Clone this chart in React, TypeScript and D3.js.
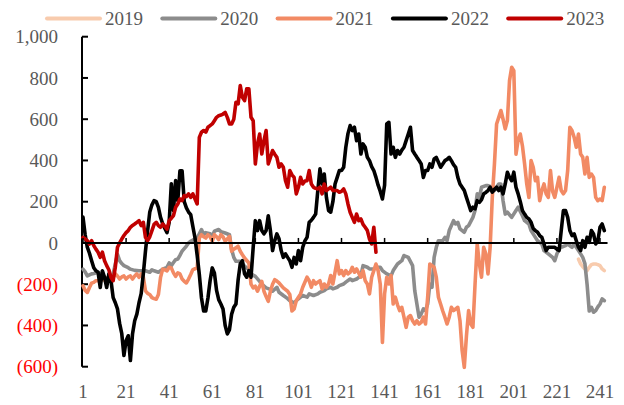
import React from "react";
import * as d3 from "d3";

type P = [number, number];

const seriesNames = ["2019", "2020", "2021", "2022", "2023"];
const seriesColors = ["#F8CBAD", "#8C8C8C", "#F28A64", "#000000", "#C00000"];

const yTicks = [-600, -400, -200, 0, 200, 400, 600, 800, 1000];
const xTicks = [1, 21, 41, 61, 81, 101, 121, 141, 161, 181, 201, 221, 241];

const s2019: P[] = [[231,-78],[232,-102],[233,-115],[234,-126],[235,-134],[236,-118],[237,-105],[238,-102],[239,-102],[240,-105],[241,-110],[242,-126],[243,-134]];

const s2020: P[] = [[1,-127],[2,-140],[3,-160],[4,-155],[5,-150],[6,-148],[8,-142],[9,-150],[10,-160],[12,-172],[13,-175],[14,-183],[15,-150],[16,-102],[17,-55],[18,-86],[19,-100],[20,-110],[22,-120],[23,-127],[25,-133],[27,-135],[30,-135],[32,-142],[33,-130],[34,-135],[36,-142],[38,-127],[40,-118],[41,-97],[42,-110],[43,-95],[44,-81],[45,-78],[46,-60],[47,-40],[49,-15],[50,0],[51,8],[53,20],[54,24],[56,65],[57,40],[58,50],[60,45],[61,32],[62,57],[64,65],[65,55],[67,48],[69,40],[70,-32],[71,-70],[72,-89],[74,-89],[76,-113],[78,-129],[79,-150],[81,-162],[83,-186],[84,-200],[86,-218],[88,-225],[89,-234],[91,-215],[92,-239],[94,-255],[96,-270],[97,-280],[99,-290],[100,-280],[102,-263],[103,-255],[105,-263],[106,-247],[108,-255],[110,-247],[111,-239],[113,-231],[114,-223],[116,-215],[117,-223],[119,-215],[120,-207],[122,-199],[123,-190],[125,-175],[126,-183],[128,-175],[130,-158],[131,-110],[133,-118],[134,-126],[136,-126],[137,-118],[139,-118],[140,-134],[142,-150],[144,-160],[145,-134],[147,-102],[149,-86],[150,-61],[152,-70],[154,-110],[155,-231],[156,-296],[157,-360],[158,-344],[159,-320],[160,-328],[161,-296],[162,-199],[163,-215],[164,-70],[165,-21],[166,11],[168,11],[169,27],[170,11],[171,60],[173,108],[174,92],[175,100],[176,68],[178,52],[179,76],[180,84],[182,124],[183,157],[184,238],[185,221],[186,270],[188,278],[189,278],[191,270],[192,254],[194,286],[195,286],[196,205],[197,140],[198,149],[200,124],[202,157],[203,173],[205,132],[206,108],[208,92],[209,60],[211,27],[212,11],[214,-5],[215,-37],[217,-53],[219,-70],[220,-86],[221,-53],[222,-29],[223,-21],[225,-13],[226,-5],[228,-21],[229,-5],[231,-37],[232,-53],[233,-70],[234,-100],[235,-200],[236,-330],[237,-312],[238,-336],[239,-328],[240,-310],[241,-296],[242,-271],[243,-280]];

const s2021: P[] = [[1,-208],[2,-230],[3,-240],[4,-216],[5,-195],[6,-191],[7,-183],[9,-183],[10,-175],[11,-180],[12,-183],[13,-160],[14,-165],[15,-167],[16,-150],[17,-160],[18,-175],[19,-165],[20,-160],[21,-175],[22,-165],[23,-160],[24,-175],[25,-160],[26,-150],[27,-167],[28,-150],[29,-165],[30,-232],[31,-245],[32,-250],[33,-265],[34,-270],[35,-273],[36,-250],[37,-167],[38,-127],[39,-130],[40,-135],[41,-118],[42,-121],[43,-145],[44,-162],[45,-145],[46,-150],[47,-175],[48,-186],[49,-194],[50,-175],[51,-153],[52,-129],[53,-125],[54,-121],[55,24],[56,40],[57,30],[58,24],[59,40],[60,30],[61,8],[62,40],[63,30],[64,16],[65,40],[66,30],[67,8],[68,20],[69,32],[70,-40],[71,-30],[72,-24],[73,-16],[74,-40],[75,-57],[76,-73],[77,-85],[78,-97],[79,-200],[80,-218],[81,-210],[82,-234],[83,-210],[84,-186],[85,-234],[86,-260],[87,-283],[88,-234],[89,-200],[90,-178],[91,-185],[92,-194],[94,-218],[96,-234],[97,-250],[98,-330],[99,-320],[100,-280],[101,-263],[102,-247],[103,-215],[105,-166],[106,-183],[107,-215],[108,-183],[109,-199],[110,-190],[111,-183],[112,-223],[113,-199],[114,-215],[115,-199],[116,-158],[117,-199],[119,-86],[120,-150],[121,-134],[122,-158],[123,-134],[124,-150],[125,-142],[126,-118],[127,-142],[128,-126],[130,-166],[131,-134],[132,-183],[133,-199],[134,-247],[135,-166],[136,-134],[137,-102],[138,-134],[139,-200],[140,-482],[141,-247],[142,-166],[143,-199],[144,-158],[145,-296],[146,-263],[147,-300],[148,-328],[149,-312],[150,-360],[151,-409],[152,-360],[153,-352],[154,-377],[155,-393],[156,-377],[157,-393],[158,-385],[159,-360],[160,-393],[161,-263],[162,-102],[163,-110],[164,-118],[165,-166],[166,-263],[167,-296],[168,-330],[169,-360],[170,-393],[171,-360],[172,-312],[173,-328],[174,-320],[175,-312],[176,-377],[177,-522],[178,-603],[179,-450],[180,-328],[181,-393],[182,-409],[183,-199],[184,-5],[185,-102],[186,-166],[187,-21],[188,-53],[189,-150],[190,-21],[191,221],[192,383],[193,577],[194,609],[195,642],[196,600],[197,553],[198,593],[199,787],[200,852],[201,835],[202,430],[203,500],[204,528],[205,470],[206,383],[207,286],[208,221],[209,399],[210,367],[211,302],[212,318],[213,205],[214,254],[215,286],[216,238],[217,221],[218,351],[219,250],[220,221],[221,270],[222,318],[223,254],[224,238],[225,254],[226,351],[227,561],[228,545],[229,512],[230,464],[231,528],[232,431],[233,415],[234,334],[235,415],[236,318],[237,334],[238,318],[239,221],[240,205],[241,213],[242,205],[243,270]];

const s2022: P[] = [[1,125],[2,40],[3,-20],[4,-50],[5,-86],[6,-120],[7,-135],[8,-142],[9,-216],[10,-135],[11,-167],[12,-216],[13,-150],[14,-183],[15,-265],[16,-290],[17,-320],[18,-390],[19,-440],[20,-546],[21,-474],[22,-450],[23,-570],[24,-440],[25,-377],[26,-345],[27,-290],[28,-246],[29,-150],[30,-40],[31,60],[32,150],[33,185],[34,205],[35,200],[36,172],[37,124],[38,93],[39,70],[40,50],[41,100],[42,287],[43,157],[44,302],[45,205],[46,350],[47,350],[48,200],[49,170],[50,150],[51,137],[52,80],[53,24],[54,-60],[55,-153],[56,-267],[57,-330],[58,-330],[59,-267],[60,-183],[61,-121],[62,-145],[63,-230],[64,-275],[65,-296],[66,-320],[67,-400],[68,-441],[69,-420],[70,-345],[71,-312],[72,-296],[73,-180],[74,-102],[75,-86],[76,-150],[77,-166],[78,-134],[79,-166],[80,-21],[81,108],[82,60],[83,108],[84,60],[85,44],[86,60],[87,132],[88,60],[89,-37],[90,11],[91,44],[92,20],[93,-37],[94,-70],[95,-53],[96,-70],[97,-86],[98,-118],[99,-70],[100,-102],[101,-37],[102,-86],[103,-21],[104,10],[105,27],[106,100],[107,110],[108,124],[109,140],[110,254],[111,359],[112,286],[113,334],[114,221],[115,157],[116,149],[117,200],[118,286],[119,318],[120,351],[121,351],[122,367],[123,464],[124,530],[125,569],[126,545],[127,561],[128,496],[129,528],[130,431],[131,480],[132,464],[133,415],[134,399],[135,370],[136,351],[137,318],[138,280],[139,250],[140,213],[141,280],[142,577],[143,585],[144,431],[145,464],[146,415],[147,448],[148,431],[149,450],[150,464],[151,496],[152,528],[153,561],[154,448],[155,431],[156,415],[157,400],[158,383],[159,318],[160,351],[161,351],[162,383],[163,367],[164,407],[165,415],[166,391],[167,367],[168,383],[169,399],[170,405],[171,415],[172,399],[173,380],[174,367],[175,318],[176,286],[177,270],[178,254],[179,221],[180,189],[181,157],[182,173],[183,165],[184,205],[185,197],[186,210],[187,238],[188,245],[189,254],[190,270],[191,246],[192,260],[193,270],[194,254],[195,270],[196,238],[197,286],[198,343],[199,318],[200,302],[201,343],[202,270],[203,238],[204,200],[205,157],[206,140],[207,124],[208,116],[209,100],[210,70],[211,60],[212,52],[213,36],[214,27],[215,-5],[216,-37],[217,-21],[218,-21],[219,-21],[220,-21],[221,-30],[222,-37],[223,60],[224,157],[225,157],[226,124],[227,60],[228,36],[229,44],[230,11],[231,-20],[232,-37],[233,11],[234,-21],[235,27],[236,3],[237,60],[238,44],[239,-5],[240,11],[241,76],[242,92],[243,60]];

const s2023: P[] = [[1,27],[2,20],[3,11],[4,-5],[5,11],[6,-13],[7,-30],[8,-45],[9,-70],[10,-45],[11,-86],[12,-110],[13,-130],[14,-167],[15,-183],[16,-118],[17,-21],[18,0],[19,19],[20,36],[21,50],[22,60],[23,76],[24,85],[25,92],[26,100],[27,108],[28,84],[29,100],[30,27],[31,11],[32,30],[33,60],[34,90],[35,100],[36,84],[37,76],[38,92],[39,80],[40,67],[41,108],[42,120],[43,133],[44,173],[45,189],[46,213],[47,205],[48,230],[49,225],[50,238],[51,221],[52,238],[53,213],[54,189],[55,512],[56,537],[57,545],[58,537],[59,561],[60,569],[61,577],[62,593],[63,609],[64,617],[65,620],[66,625],[67,633],[68,609],[69,577],[70,577],[71,600],[72,682],[73,674],[74,763],[75,706],[76,690],[77,747],[78,747],[79,609],[80,593],[81,383],[82,480],[83,528],[84,431],[85,496],[86,545],[87,383],[88,415],[89,448],[90,430],[91,415],[92,367],[93,383],[94,367],[95,302],[96,270],[97,351],[98,330],[99,318],[100,238],[101,270],[102,318],[103,286],[104,300],[105,302],[106,351],[107,286],[108,270],[109,265],[110,262],[111,270],[112,238],[113,286],[114,254],[115,262],[116,270],[117,254],[118,254],[119,254],[120,246],[121,250],[122,262],[123,238],[124,189],[125,149],[126,124],[127,100],[128,140],[129,108],[130,116],[131,90],[132,76],[133,60],[134,19],[135,-5],[136,76],[137,-45]];

const allSeries = [s2019, s2020, s2021, s2022, s2023];

const FONT = "'Liberation Serif', 'Times New Roman', serif";

export default function App() {
  const W = 624, H = 405;
  const x = d3.scaleLinear().domain([1, 241]).range([83, 600]);
  const y = d3.scaleLinear().domain([-600, 1000]).range([366.7, 36.7]);
  const line = d3.line<P>().x(d => x(d[0])).y(d => y(d[1]));
  const fmt = d3.format(",");
  const axisX = 82;
  const legendStep = 115.3;

  return (
    <svg width={W} height={H} style={{ position: "absolute", left: 0, top: 0, background: "#fff" }} fontFamily={FONT}>
      {seriesNames.map((n, k) => {
        const lx = 47 + k * legendStep;
        return (
          <g key={n}>
            <line x1={lx} x2={lx + 53} y1={18.5} y2={18.5} stroke={seriesColors[k]} strokeWidth={4} strokeLinecap="round" />
            <text x={lx + 58} y={18.5} dy="0.35em" fontSize={19} fill="#595959">{n}</text>
          </g>
        );
      })}
      <line x1={axisX} x2={axisX} y1={y(1000)} y2={y(-600)} stroke="#000" strokeWidth={2} />
      {yTicks.map(t => (
        <g key={t}>
          <line x1={axisX} x2={axisX + 6} y1={y(t)} y2={y(t)} stroke="#000" strokeWidth={2} />
          <text x={58} y={y(t)} dy="0.35em" textAnchor="end" fontSize={19} fill={t < 0 ? "#FF0000" : "#595959"}>
            {t < 0 ? `(${fmt(-t)})` : fmt(t)}
          </text>
        </g>
      ))}
      {allSeries.map((s, k) => (
        <path key={k} d={line(s) || ""} fill="none" stroke={seriesColors[k]} strokeWidth={3.6} strokeLinejoin="round" strokeLinecap="round" />
      ))}
      <line x1={axisX} x2={x(244.5)} y1={y(0)} y2={y(0)} stroke="#000" strokeWidth={2} />
      {xTicks.map(t => (
        <g key={t}>
          <line x1={x(t)} x2={x(t)} y1={y(0)} y2={y(0) - 5} stroke="#000" strokeWidth={1.5} />
          <text x={x(t)} y={398} textAnchor="middle" fontSize={19} fill="#595959">{t}</text>
        </g>
      ))}
    </svg>
  );
}
